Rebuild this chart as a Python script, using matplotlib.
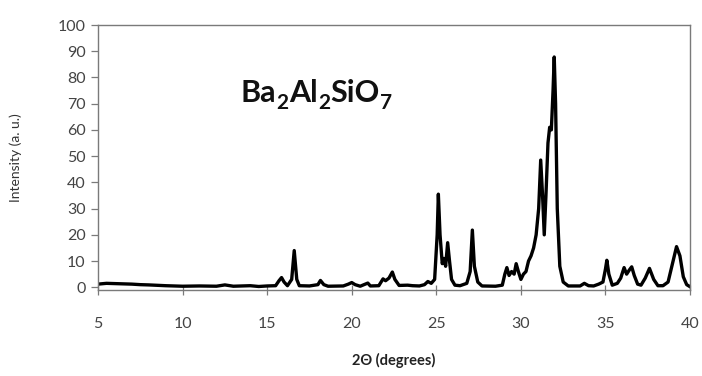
import matplotlib
matplotlib.use("Agg")
import matplotlib.pyplot as plt
from matplotlib.transforms import offset_copy

# Diffraction pattern of Ba2Al2SiO7: 2-theta (degrees) and intensity (a. u.)
two_theta = [
    5.0, 5.5, 6.0, 6.5, 7.0, 7.5, 8.0, 9.0, 10.0, 11.0, 12.0, 12.5, 13.0, 13.5,
    14.0, 14.5, 15.0, 15.5, 15.7, 15.85, 16.0, 16.2, 16.45, 16.6, 16.75, 16.9,
    17.5, 18.0, 18.15, 18.35, 18.6, 19.5, 19.8, 20.0, 20.2, 20.5, 20.8, 20.95,
    21.1, 21.6, 21.85, 22.0, 22.2, 22.4, 22.55, 22.8, 23.3, 23.6, 24.0, 24.3,
    24.5, 24.7, 24.9, 25.05, 25.12, 25.22, 25.35, 25.45, 25.55, 25.67, 25.78,
    25.9, 26.1, 26.4, 26.8, 27.0, 27.13, 27.25, 27.45, 27.7, 28.5, 28.9, 29.05,
    29.17, 29.3, 29.45, 29.6, 29.72, 29.85, 30.0, 30.15, 30.3, 30.45, 30.6,
    30.75, 30.9, 31.05, 31.17, 31.28, 31.38, 31.48, 31.6, 31.7, 31.8, 31.9,
    31.97, 32.05, 32.15, 32.3, 32.5, 32.8, 33.5, 33.75, 34.0, 34.3, 34.6, 34.85,
    35.0, 35.08, 35.2, 35.4, 35.7, 35.9, 36.1, 36.25, 36.4, 36.55, 36.7, 36.9,
    37.1, 37.35, 37.6, 37.85, 38.1, 38.4, 38.7, 39.0, 39.2, 39.4, 39.6, 39.8,
    40.0,
]
intensity = [
    1.2, 1.5, 1.4, 1.3, 1.2, 1.0, 0.9, 0.6, 0.4, 0.5, 0.4, 0.9, 0.4, 0.5,
    0.6, 0.3, 0.5, 0.6, 2.5, 3.7, 2.0, 0.6, 3.0, 14.0, 3.0, 0.6,
    0.5, 1.0, 2.6, 1.0, 0.4, 0.5, 1.2, 1.8, 1.0, 0.4, 1.2, 1.6,
    0.5, 0.6, 3.2, 2.5, 3.5, 5.8, 3.0, 0.7, 0.8, 0.6, 0.5, 1.0,
    2.2, 1.5, 3.0, 20.0, 35.5, 20.0, 9.0, 11.0, 8.0, 17.0, 10.0,
    3.0, 0.8, 0.6, 1.5, 6.0, 21.8, 8.0, 2.0, 0.5, 0.4, 0.8, 5.0,
    7.5, 4.5, 6.0, 5.0, 9.0, 6.0, 3.0, 5.0, 6.0, 10.0, 12.0,
    15.0, 20.0, 30.0, 48.5, 35.0, 20.0, 35.0, 55.0, 61.0, 60.0, 75.0,
    87.8, 70.0, 30.0, 8.0, 2.0, 0.5, 0.5, 1.5, 0.6, 0.5, 1.2, 2.0,
    7.0, 10.3, 5.0, 0.8, 1.5, 3.5, 7.5, 5.0, 6.5, 7.8, 4.5, 1.2,
    0.8, 3.5, 7.2, 3.0, 0.6, 0.6, 2.0, 10.0, 15.5, 12.0, 4.0, 1.0,
    0.2,
]

x_ticks = [5, 10, 15, 20, 25, 30, 35, 40]
y_ticks = [0, 10, 20, 30, 40, 50, 60, 70, 80, 90, 100]

# formula pieces: (text, is_subscript)
formula_parts = [("Ba", False), ("2", True), ("Al", False), ("2", True),
                 ("SiO", False), ("7", True)]

plt.rcParams["font.family"] = ["Lato", "DejaVu Sans"]

fig = plt.figure(figsize=(7.02, 3.76), dpi=100)
ax = fig.add_axes([0.1396, 0.229, 0.8434, 0.7045])

ax.plot(two_theta, intensity, color="black", linewidth=2.4,
        solid_joinstyle="round")

ax.set_xlim(5, 40)
ax.set_ylim(-1, 100)
ax.set_xticks(x_ticks)
ax.set_yticks(y_ticks)

for side in ("top", "right", "left", "bottom"):
    ax.spines[side].set_color("#7a7a7a")
    ax.spines[side].set_linewidth(1.0)

ax.tick_params(axis="y", direction="out", length=5, width=0.9,
               color="#7a7a7a", labelsize=11.5, labelcolor="#444444", pad=4)
ax.tick_params(axis="x", direction="inout", length=7, width=0.9,
               color="#7a7a7a", labelsize=11.5, labelcolor="#444444", pad=16)

ax.set_ylabel("Intensity (a. u.)", fontsize=10, color="#333333")
ax.yaxis.set_label_coords(-0.128, 0.5)
ax.set_xlabel("2\u0398 (degrees)", fontsize=10.5, color="#222222",
              fontweight="bold", labelpad=16)

# chemical formula, laid out piece by piece so subscripts sit low
renderer = fig.canvas.get_renderer()
main_size, sub_size = 22, 15
x_off = 0.0
for part, is_sub in formula_parts:
    trans = offset_copy(ax.transData, fig=fig, x=x_off,
                        y=-5.0 if is_sub else 0.0, units="points")
    t = ax.text(13.4, 70.6, part, transform=trans,
                fontsize=sub_size if is_sub else main_size,
                fontweight="bold", color="#111111",
                ha="left", va="baseline")
    w_px = t.get_window_extent(renderer=renderer).width
    x_off += w_px * 72.0 / fig.dpi + 0.4

fig.savefig("out.png", dpi=100, facecolor="white")
